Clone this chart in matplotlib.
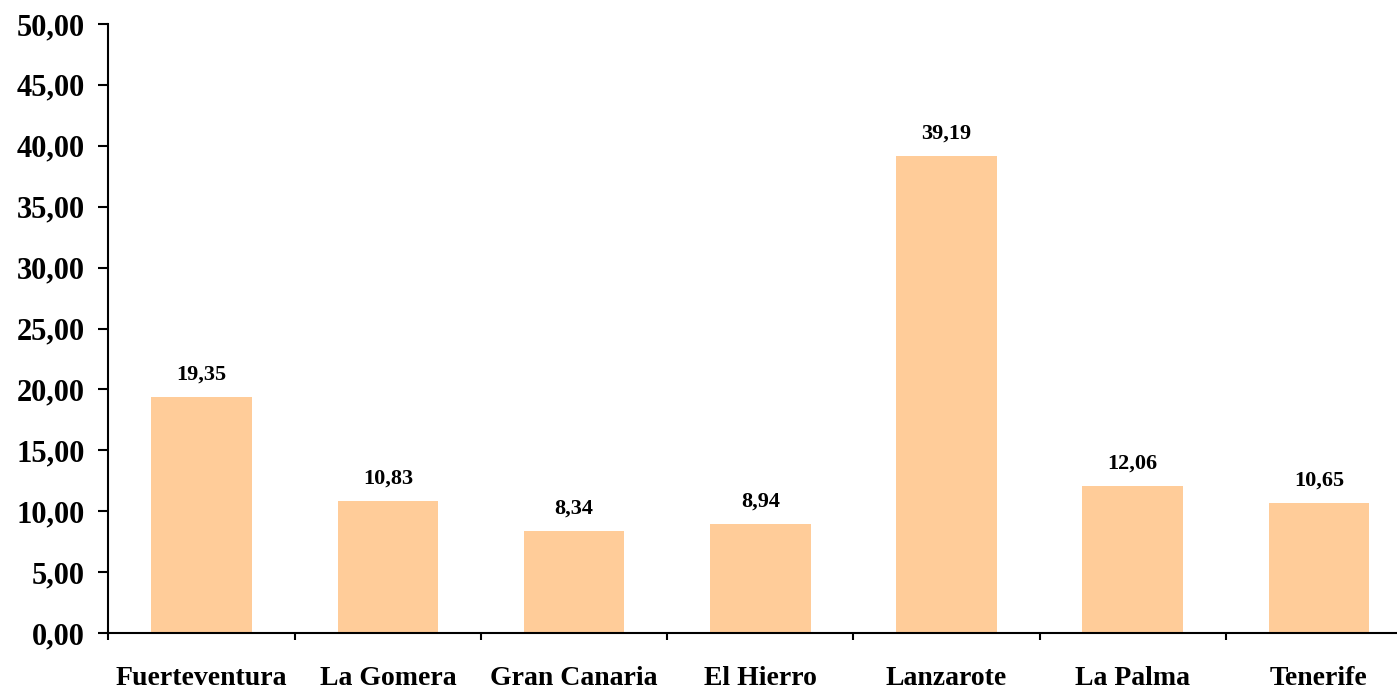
import numpy as np
import matplotlib.pyplot as plt

islas = ["Fuerteventura", "La Gomera", "Gran Canaria", "El Hierro",
         "Lanzarote", "La Palma", "Tenerife"]
valores = [19.35, 10.83, 8.34, 8.94, 39.19, 12.06, 10.65]
y_ticks = np.arange(0, 55, 5)

plt.rcParams["font.family"] = ["Liberation Serif", "DejaVu Serif"]
plt.rcParams["font.weight"] = "bold"

fig = plt.figure(figsize=(13.97, 6.89), dpi=100)
W, H = 1397, 689
ax = fig.add_axes([108.5 / W, (H - 633) / H, (1412 - 108.5) / W, (633 - 24) / H])

x = np.arange(len(islas))
bars = ax.bar(x, valores, width=0.54, color="#FFCC99", zorder=2)

# etiquetas de valor encima de cada barra
for xi, v in zip(x, valores):
    ax.annotate(f"{v:.2f}".replace(".", ","), (xi, v), xytext=(0, 9),
                textcoords="offset points", ha="center", va="bottom",
                fontsize=16, fontweight="bold")

ax.set_xlim(-0.5, len(islas) - 0.5)
ax.set_ylim(0, 50)
ax.set_yticks(y_ticks)
ax.set_yticklabels([f"{t:.2f}".replace(".", ",") for t in y_ticks],
                   fontsize=22, fontweight="bold")
ax.set_xticks(x)
ax.set_xticklabels(islas, fontsize=20, fontweight="bold")
ax.set_xticks(np.arange(-0.5, len(islas), 1), minor=True)

ax.tick_params(axis="y", direction="out", length=7, width=1.5, pad=10)
ax.tick_params(axis="x", which="major", length=0, pad=24)
ax.tick_params(axis="x", which="minor", direction="out", length=5, width=1.5)

for s in ["top", "right"]:
    ax.spines[s].set_visible(False)
for s in ["left", "bottom"]:
    ax.spines[s].set_linewidth(1.5)

fig.savefig("out.png", dpi=100)
